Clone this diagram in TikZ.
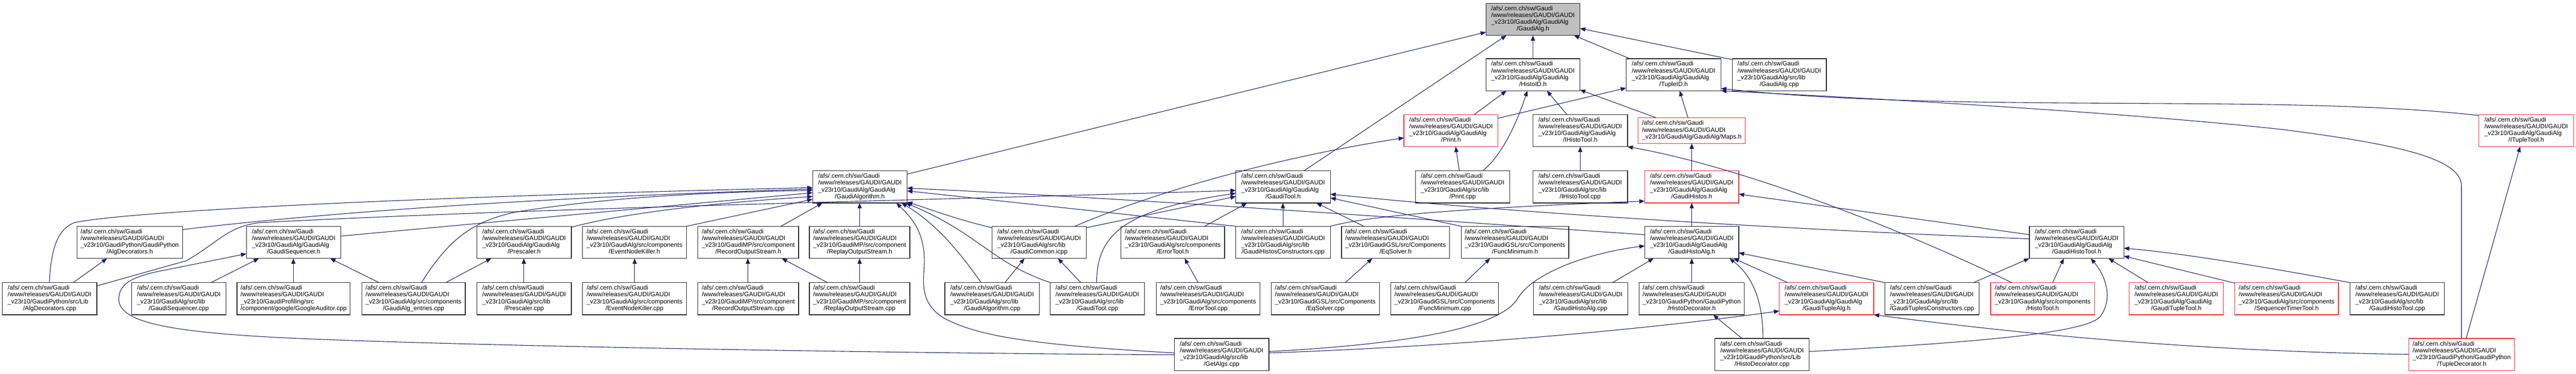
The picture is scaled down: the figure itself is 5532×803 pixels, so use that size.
\documentclass[tikz,border=0pt]{standalone}
\usepackage{fontspec}
\setmainfont{Liberation Sans}
\usetikzlibrary{calc,arrows.meta}
\definecolor{edgecol}{RGB}{25,25,112}
\definecolor{truncred}{RGB}{255,40,40}
\definecolor{rootgray}{RGB}{191,191,191}
\newcommand{\lbl}[2]{\begin{tabular}{@{}l@{}}/afs/.cern.ch/sw/Gaudi\\/www/releases/GAUDI/GAUDI\\#1\\\multicolumn{1}{@{}c@{}}{#2}\end{tabular}}
\newcommand{\bx}[8]{\node[gbox,#6,minimum width=#4pt,minimum height=#5pt] (#1) at ({#2+#4/2},{#3+#5/2}) {\lbl{#7}{#8}};}
\begin{document}
\begin{tikzpicture}[x=1pt,y=-1pt,
  gbox/.style={draw=black!85, line width=1.4pt, inner sep=0pt, outer sep=0pt, fill=white, font=\fontsize{13.4}{14.6}\selectfont},
  truncnode/.style={draw=truncred},
  rootnode/.style={fill=rootgray},
  dep/.style={draw=edgecol, line width=1.2pt, -{Triangle[length=11.5pt,width=9pt]}}]
\useasboundingbox (0,0) rectangle (5532,803);
\fill[white] (0,0) rectangle (5532,803);
% row 0
\bx{ga}{3191}{7}{202}{69}{rootnode}{\_v23r10/GaudiAlg/GaudiAlg}{/GaudiAlg.h}
% row 1
\bx{hid}{3191}{126}{202}{69}{}{\_v23r10/GaudiAlg/GaudiAlg}{/HistoID.h}
\bx{tid}{3492}{126}{204}{69}{}{\_v23r10/GaudiAlg/GaudiAlg}{/TupleID.h}
\bx{gacpp}{3720}{126}{202}{69}{}{\_v23r10/GaudiAlg/src/lib}{/GaudiAlg.cpp}
% row 2
\bx{prh}{3015}{246}{202}{69}{truncnode}{\_v23r10/GaudiAlg/GaudiAlg}{/Print.h}
\bx{iht}{3292}{246}{203}{69}{}{\_v23r10/GaudiAlg/GaudiAlg}{/IHistoTool.h}
\node[gbox,truncnode,minimum width=230pt,minimum height=55pt] (maps) at (3633,280.5) {\begin{tabular}{@{}l@{}}/afs/.cern.ch/sw/Gaudi\\/www/releases/GAUDI/GAUDI\\\_v23r10/GaudiAlg/GaudiAlg/Maps.h\end{tabular}};
\bx{itt}{5323}{246}{204}{69}{truncnode}{\_v23r10/GaudiAlg/GaudiAlg}{/ITupleTool.h}
% row 3
\bx{galg}{1745}{367}{203}{69}{}{\_v23r10/GaudiAlg/GaudiAlg}{/GaudiAlgorithm.h}
\bx{gtool}{2654}{367}{203}{69}{}{\_v23r10/GaudiAlg/GaudiAlg}{/GaudiTool.h}
\bx{prc}{3040}{367}{202}{69}{}{\_v23r10/GaudiAlg/src/lib}{/Print.cpp}
\bx{ihtc}{3292}{367}{203}{69}{}{\_v23r10/GaudiAlg/src/lib}{/IHistoTool.cpp}
\bx{ghis}{3532}{367}{202}{69}{truncnode}{\_v23r10/GaudiAlg/GaudiAlg}{/GaudiHistos.h}
% row 4
\bx{adh}{165}{486}{227}{69}{}{\_v23r10/GaudiPython/GaudiPython}{/AlgDecorators.h}
\bx{gsh}{529}{486}{203}{69}{}{\_v23r10/GaudiAlg/GaudiAlg}{/GaudiSequencer.h}
\bx{psh}{1024}{486}{203}{69}{}{\_v23r10/GaudiAlg/GaudiAlg}{/Prescaler.h}
\bx{enkh}{1251}{486}{223}{69}{}{\_v23r10/GaudiAlg/src/components}{/EventNodeKiller.h}
\bx{rech}{1499}{486}{216}{69}{}{\_v23r10/GaudiMP/src/component}{/RecordOutputStream.h}
\bx{reph}{1738}{486}{216}{69}{}{\_v23r10/GaudiMP/src/component}{/ReplayOutputStream.h}
\bx{gci}{2130}{486}{203}{69}{}{\_v23r10/GaudiAlg/src/lib}{/GaudiCommon.icpp}
\bx{eth}{2407}{486}{223}{69}{}{\_v23r10/GaudiAlg/src/components}{/ErrorTool.h}
\bx{ghcc}{2654}{486}{203}{69}{}{\_v23r10/GaudiAlg/src/lib}{/GaudiHistosConstructors.cpp}
\bx{eqh}{2881}{486}{232}{69}{}{\_v23r10/GaudiGSL/src/Components}{/EqSolver.h}
\bx{fmh}{3138}{486}{231}{69}{}{\_v23r10/GaudiGSL/src/Components}{/FuncMinimum.h}
\bx{ghah}{3532}{486}{202}{69}{}{\_v23r10/GaudiAlg/GaudiAlg}{/GaudiHistoAlg.h}
\bx{ghth}{4358}{486}{203}{69}{}{\_v23r10/GaudiAlg/GaudiAlg}{/GaudiHistoTool.h}
% row 5
\bx{adc}{5}{607}{203}{69}{}{\_v23r10/GaudiPython/src/Lib}{/AlgDecorators.cpp}
\bx{gsc}{283}{607}{202}{69}{}{\_v23r10/GaudiAlg/src/lib}{/GaudiSequencer.cpp}
\bx{gac}{509}{607}{243}{69}{}{\_v23r10/GaudiProfiling/src}{/component/google/GoogleAuditor.cpp}
\bx{gaec}{777}{607}{222}{69}{}{\_v23r10/GaudiAlg/src/components}{/GaudiAlg\_entries.cpp}
\bx{psc}{1024}{607}{203}{69}{}{\_v23r10/GaudiAlg/src/lib}{/Prescaler.cpp}
\bx{enkc}{1251}{607}{223}{69}{}{\_v23r10/GaudiAlg/src/components}{/EventNodeKiller.cpp}
\bx{recc}{1499}{607}{216}{69}{}{\_v23r10/GaudiMP/src/component}{/RecordOutputStream.cpp}
\bx{repc}{1738}{607}{216}{69}{}{\_v23r10/GaudiMP/src/component}{/ReplayOutputStream.cpp}
\bx{galgc}{2029}{607}{203}{69}{}{\_v23r10/GaudiAlg/src/lib}{/GaudiAlgorithm.cpp}
\bx{gtc}{2255}{607}{203}{69}{}{\_v23r10/GaudiAlg/src/lib}{/GaudiTool.cpp}
\bx{etc}{2483}{607}{223}{69}{}{\_v23r10/GaudiAlg/src/components}{/ErrorTool.cpp}
\bx{eqc}{2730}{607}{232}{69}{}{\_v23r10/GaudiGSL/src/Components}{/EqSolver.cpp}
\bx{fmc}{2987}{607}{231}{69}{}{\_v23r10/GaudiGSL/src/Components}{/FuncMinimum.cpp}
\bx{ghac}{3293}{607}{203}{69}{}{\_v23r10/GaudiAlg/src/lib}{/GaudiHistoAlg.cpp}
\bx{hdh}{3520}{607}{226}{69}{}{\_v23r10/GaudiPython/GaudiPython}{/HistoDecorator.h}
\bx{gtah}{3821}{607}{203}{69}{truncnode}{\_v23r10/GaudiAlg/GaudiAlg}{/GaudiTupleAlg.h}
\bx{gtcc}{4048}{607}{202}{69}{}{\_v23r10/GaudiAlg/src/lib}{/GaudiTuplesConstructors.cpp}
\bx{hth}{4275}{607}{223}{69}{truncnode}{\_v23r10/GaudiAlg/src/components}{/HistoTool.h}
\bx{gtth}{4572}{607}{203}{69}{truncnode}{\_v23r10/GaudiAlg/GaudiAlg}{/GaudiTupleTool.h}
\bx{stth}{4799}{607}{223}{69}{truncnode}{\_v23r10/GaudiAlg/src/components}{/SequencerTimerTool.h}
\bx{ghtc}{5047}{607}{202}{69}{}{\_v23r10/GaudiAlg/src/lib}{/GaudiHistoTool.cpp}
% row 6
\bx{gal}{2522}{727}{203}{69}{}{\_v23r10/GaudiAlg/src/lib}{/GetAlgs.cpp}
\bx{hdc}{3683}{727}{202}{69}{}{\_v23r10/GaudiPython/src/Lib}{/HistoDecorator.cpp}
\bx{tdh}{5173}{727}{227}{69}{truncnode}{\_v23r10/GaudiPython/GaudiPython}{/TupleDecorator.h}
% edges
\draw[dep] ($(galg.north west)+(203,7)$) -- ($(ga.north west)+(0,62)$);
\draw[dep] ($(gtool.north west)+(146,0)$) -- ($(ga.north west)+(44,69)$);
\draw[dep] (hid.north) -- (ga.south);
\draw[dep] ($(tid.north west)+(8,0)$) -- ($(ga.north west)+(189,69)$);
\draw[dep] ($(gacpp.north west)+(0,2)$) -- ($(ga.north west)+(202,54)$);
\draw[dep] ($(prh.north west)+(151,0)$) -- ($(hid.north west)+(44,69)$);
\draw[dep] ($(prh.north west)+(202,8)$) -- ($(tid.north west)+(0,63)$);
\draw[dep] ($(prc.north west)+(94,0)$) -- ($(prh.north west)+(111,69)$);
\draw[dep] ($(prc.north west)+(144,0)$) .. controls (3235,325) and (3265,240) .. ($(hid.north west)+(89,69)$);
\draw[dep] ($(iht.north west)+(73,0)$) -- ($(hid.north west)+(131,69)$);
\draw[dep] ($(maps.north west)+(39,0)$) -- ($(hid.north west)+(202,67)$);
\draw[dep] ($(maps.north west)+(107,0)$) -- ($(tid.north west)+(115,69)$);
\draw[dep] (ihtc.north) -- (iht.south);
\draw[dep] ($(hth.north west)+(45,0)$) .. controls (4100,500) and (3750,360) .. ($(iht.north west)+(203,69)$);
\draw[dep] ($(itt.north west)+(0,2)$) .. controls (4900,200) and (4200,245) .. ($(tid.north west)+(204,64)$);
\draw[dep] ($(tdh.north west)+(113,0)$) -- (5286,400) .. controls (5286,340) and (5150,310) .. (4900,278) .. controls (4600,245) and (4100,215) .. ($(tid.north west)+(204,69)$);
\draw[dep] ($(tdh.north west)+(123,0)$) -- ($(itt.north west)+(89,69)$);
\draw[dep] ($(ghis.north west)+(101,0)$) -- ($(maps.north west)+(115,55)$);
\draw[dep] ($(ghah.north west)+(101,0)$) -- ($(ghis.north west)+(101,69)$);
\draw[dep] ($(hdh.north west)+(113,0)$) -- ($(ghah.north west)+(101,69)$);
\draw[dep] ($(hdc.north west)+(58,0)$) -- ($(hdh.north west)+(159,69)$);
\draw[dep] ($(hdc.north west)+(103,0)$) .. controls (3786,640) and (3760,590) .. ($(ghah.north west)+(182,69)$);
\draw[dep] ($(gtah.north west)+(18,0)$) -- ($(ghah.north west)+(191,69)$);
\draw[dep] (gtcc.north west) -- ($(ghah.north west)+(202,57)$);
\draw[dep] ($(ghac.north west)+(170,0)$) -- ($(ghah.north west)+(19,69)$);
\draw[dep] ($(gal.north west)+(203,28)$) .. controls (3100,735) and (3230,690) .. (3260,640) .. controls (3290,590) and (3400,545) .. ($(ghah.north west)+(0,42)$);
\draw[dep] ($(gal.north west)+(203,31)$) .. controls (3100,745) and (3500,712) .. ($(gtah.north west)+(0,61)$);
\draw[dep] ($(tdh.north west)+(0,34)$) .. controls (4700,755) and (4300,712) .. ($(gtah.north west)+(203,69)$);
\draw[dep] ($(hdc.north west)+(202,28)$) .. controls (4250,735) and (4480,715) .. (4510,680) .. controls (4540,640) and (4520,590) .. ($(ghth.north west)+(132,69)$);
\draw[dep] ($(gtcc.north west)+(190,0)$) -- ($(ghth.north west)+(0,69)$);
\draw[dep] ($(hth.north west)+(133,0)$) -- ($(ghth.north west)+(74,69)$);
\draw[dep] ($(gtth.north west)+(41,0)$) -- ($(ghth.north west)+(170,69)$);
\draw[dep] ($(stth.north west)+(0,1)$) -- ($(ghth.north west)+(203,64)$);
\draw[dep] (ghtc.north west) .. controls (4900,580) and (4700,545) .. ($(ghth.north west)+(203,47)$);
\draw[dep] ($(ghth.north west)+(0,18)$) -- ($(ghis.north west)+(202,50)$);
\draw[dep] ($(ghth.north west)+(0,27)$) .. controls (3900,495) and (3300,462) .. ($(gtool.north west)+(203,50)$);
\draw[dep] (ghcc.north east) .. controls (2950,460) and (3200,445) .. ($(ghis.north west)+(0,65)$);
\draw[dep] ($(ghcc.north west)+(101,0)$) -- ($(gtool.north west)+(101,69)$);
\draw[dep] (ghcc.north west) -- ($(galg.north west)+(203,43)$);
\draw[dep] ($(ghah.north west)+(0,18)$) .. controls (3100,475) and (2500,430) .. ($(galg.north west)+(203,37)$);
\draw[dep] ($(eth.north west)+(180,0)$) -- ($(gtool.north west)+(24,69)$);
\draw[dep] ($(etc.north west)+(90,0)$) -- ($(eth.north west)+(137,69)$);
\draw[dep] ($(eqh.north west)+(48,0)$) -- ($(gtool.north west)+(173,69)$);
\draw[dep] (fmh.north west) -- ($(gtool.north west)+(203,58)$);
\draw[dep] ($(eqc.north west)+(159,0)$) -- ($(eqh.north west)+(66,69)$);
\draw[dep] ($(fmc.north west)+(159,0)$) -- ($(fmh.north west)+(62,69)$);
\draw[dep] ($(gci.north west)+(203,3)$) -- ($(gtool.north west)+(0,55)$);
\draw[dep] ($(gtc.north west)+(100,0)$) .. controls (2355,500) and (2420,450) .. ($(gtool.north west)+(0,48)$);
\draw[dep] ($(adc.north west)+(203,7)$) -- (400,560) .. controls (470,520) and (490,485) .. (560,478) .. controls (1200,445) and (2000,430) .. ($(gtool.north west)+(0,42)$);
\draw[dep] ($(gci.north west)+(0,3)$) .. controls (2050,470) and (2000,450) .. ($(galg.north west)+(203,67)$);
\draw[dep] ($(gtc.north west)+(1,0)$) .. controls (2130,565) and (2100,500) .. ($(galg.north west)+(200,69)$);
\draw[dep] ($(galgc.north west)+(78,0)$) .. controls (2060,540) and (2010,480) .. ($(galg.north west)+(191,69)$);
\draw[dep] ($(gal.north west)+(0,31)$) .. controls (2200,740) and (2100,720) .. (2030,685) .. controls (1970,650) and (1985,600) .. (1985,560) .. controls (1985,500) and (1960,470) .. ($(galg.north west)+(180,69)$);
\draw[dep] ($(gal.north west)+(0,35)$) .. controls (1800,758) and (900,740) .. (600,725) .. controls (350,712) and (260,690) .. (255,645) .. controls (255,610) and (280,598) .. (330,585) -- ($(gsh.north west)+(0,59)$);
\draw[dep] ($(adc.north west)+(152,0)$) -- ($(adh.north west)+(65,69)$);
\draw[dep] ($(adc.north west)+(101,0)$) .. controls (110,520) and (130,490) .. (160,478) .. controls (300,450) and (1000,420) .. ($(galg.north west)+(0,36)$);
\draw[dep] ($(adh.north west)+(227,7)$) .. controls (800,445) and (1300,420) .. ($(galg.north west)+(0,39)$);
\draw[dep] ($(gsh.north west)+(203,21)$) -- ($(galg.north west)+(0,47)$);
\draw[dep] ($(gaec.north west)+(128,0)$) .. controls (960,520) and (1010,475) .. (1110,455) .. controls (1300,425) and (1500,413) .. ($(galg.north west)+(0,42)$);
\draw[dep] ($(psh.north west)+(203,2)$) .. controls (1350,455) and (1550,435) .. ($(galg.north west)+(0,55)$);
\draw[dep] (enkh.north east) -- ($(galg.north west)+(0,61)$);
\draw[dep] ($(rech.north west)+(178,0)$) -- ($(galg.north west)+(21,69)$);
\draw[dep] ($(reph.north west)+(108,0)$) -- ($(galg.north west)+(101,69)$);
\draw[dep] ($(recc.north west)+(107,0)$) -- ($(rech.north west)+(107,69)$);
\draw[dep] ($(repc.north west)+(39,0)$) -- ($(rech.north west)+(180,69)$);
\draw[dep] ($(repc.north west)+(108,0)$) -- ($(reph.north west)+(108,69)$);
\draw[dep] ($(enkc.north west)+(112,0)$) -- ($(enkh.north west)+(112,69)$);
\draw[dep] ($(psc.north west)+(101,0)$) -- ($(psh.north west)+(101,69)$);
\draw[dep] ($(gaec.north west)+(180,0)$) -- ($(psh.north west)+(31,69)$);
\draw[dep] ($(gaec.north west)+(37,0)$) -- ($(gsh.north west)+(180,69)$);
\draw[dep] ($(gsc.north west)+(170,0)$) -- ($(gsh.north west)+(27,69)$);
\draw[dep] ($(gac.north west)+(121,0)$) -- ($(gsh.north west)+(101,69)$);
\draw[dep] ($(gci.north west)+(178,0)$) .. controls (2450,425) and (2700,345) .. ($(prh.north west)+(0,50)$);
\draw[dep] ($(galgc.north west)+(129,0)$) -- ($(gci.north west)+(70,69)$);
\draw[dep] ($(gtc.north west)+(66,0)$) -- ($(gci.north west)+(142,69)$);
\end{tikzpicture}
\end{document}
